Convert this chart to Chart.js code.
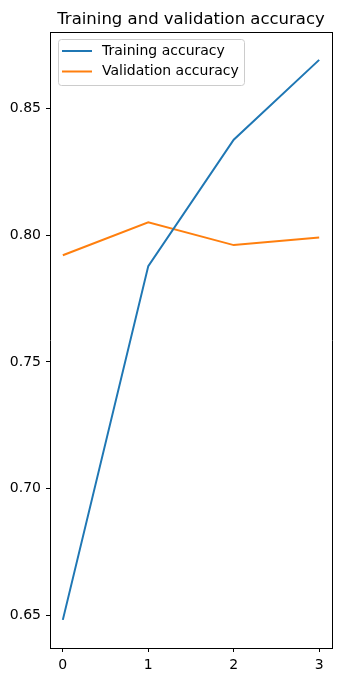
<!DOCTYPE html>
<html>
<head>
<meta charset="utf-8">
<script src="https://cdn.jsdelivr.net/npm/chart.js@4/dist/chart.umd.min.js"></script>
<style>
html,body{margin:0;padding:0;background:#fff;}
#wrap{width:342px;height:682px;}
</style>
</head>
<body>
<div id="wrap"><canvas id="c" width="342" height="682"></canvas></div>
<script>
const TITLE = 'Training and validation accuracy';
const epochs = [0, 1, 2, 3];
const trainingAccuracy = [0.6482, 0.7878, 0.8377, 0.8692];
const validationAccuracy = [0.7921, 0.8051, 0.7961, 0.7991];
const xTicks = [0, 1, 2, 3];
const yTicks = [0.65, 0.70, 0.75, 0.80, 0.85];
const seriesLabels = ['Training accuracy', 'Validation accuracy'];

const FONT = '"DejaVu Sans", sans-serif';

const framePlugin = {
  id: 'frame',
  afterDraw(chart) {
    const ctx = chart.ctx;
    const a = chart.chartArea;
    ctx.save();
    ctx.strokeStyle = '#000';
    ctx.lineWidth = 1;
    const L = Math.round(a.left), R = Math.round(a.right), T = Math.round(a.top), B = Math.round(a.bottom);
    ctx.beginPath();
    ctx.moveTo(L, T + 0.5); ctx.lineTo(R + 0.5, T + 0.5);
    ctx.moveTo(R + 0.5, T); ctx.lineTo(R + 0.5, B + 0.5);
    ctx.stroke();
    // title
    ctx.fillStyle = '#000';
    ctx.font = '16.5px ' + FONT;
    ctx.textAlign = 'center';
    ctx.textBaseline = 'alphabetic';
    ctx.fillText(TITLE, (a.left + a.right) / 2, 24);
    // legend
    const lx = 58, ly = 39, lw = 186, lh = 46;
    ctx.fillStyle = 'rgba(255,255,255,0.8)';
    ctx.strokeStyle = '#cccccc';
    ctx.beginPath();
    ctx.roundRect(lx + 0.5, ly + 0.5, lw, lh, 3);
    ctx.fill();
    ctx.stroke();
    chart.data.datasets.forEach((ds, i) => {
      const y = 51 + i * 20.5;
      ctx.strokeStyle = ds.borderColor;
      ctx.lineWidth = 2;
      ctx.beginPath();
      ctx.moveTo(62, y);
      ctx.lineTo(92, y);
      ctx.stroke();
      ctx.fillStyle = '#000';
      ctx.font = '14px ' + FONT;
      ctx.textAlign = 'left';
      ctx.textBaseline = 'middle';
      ctx.fillText(ds.label, 102, y);
    });
    ctx.restore();
  }
};

new Chart(document.getElementById('c'), {
  type: 'line',
  data: {
    datasets: [
      { label: seriesLabels[0], data: epochs.map((e, i) => ({ x: e, y: trainingAccuracy[i] })), borderColor: '#1f77b4', backgroundColor: '#1f77b4', borderWidth: 2, pointRadius: 0, tension: 0, fill: false },
      { label: seriesLabels[1], data: epochs.map((e, i) => ({ x: e, y: validationAccuracy[i] })), borderColor: '#ff7f0e', backgroundColor: '#ff7f0e', borderWidth: 2, pointRadius: 0, tension: 0, fill: false }
    ]
  },
  options: {
    responsive: false,
    animation: false,
    devicePixelRatio: 1,
    layout: { padding: { top: 32, right: 10, left: 0, bottom: 0 } },
    plugins: { legend: { display: false }, title: { display: false }, tooltip: { enabled: false } },
    scales: {
      x: {
        type: 'linear',
        min: -0.15, max: 3.15,
        afterBuildTicks(s) { s.ticks = xTicks.map(v => ({ value: v })); },
        afterFit(s) { s.height = 34; },
        grid: { drawOnChartArea: false, drawTicks: true, tickLength: 4, color: '#000', lineWidth: 1 },
        border: { display: true, color: '#000' },
        ticks: { color: '#000', font: { family: FONT, size: 14 }, padding: 5, maxRotation: 0, callback: v => String(v) }
      },
      y: {
        type: 'linear',
        min: 0.6371, max: 0.8802,
        afterBuildTicks(s) { s.ticks = yTicks.map(v => ({ value: v })); },
        afterFit(s) { s.width = 50; },
        grid: { drawOnChartArea: false, drawTicks: true, tickLength: 4, color: '#000', lineWidth: 1 },
        border: { display: true, color: '#000' },
        ticks: { color: '#000', font: { family: FONT, size: 14 }, padding: 5, callback: v => v.toFixed(2) }
      }
    }
  },
  plugins: [framePlugin]
});
</script>
</body>
</html>
